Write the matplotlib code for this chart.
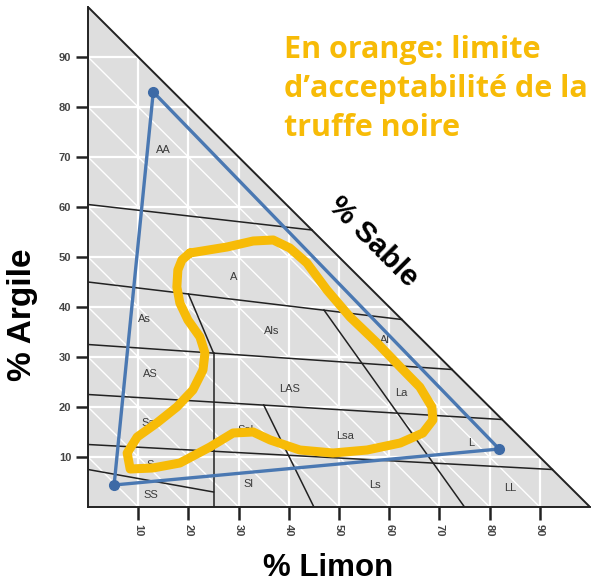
import matplotlib
matplotlib.use("Agg")
import matplotlib.pyplot as plt
import numpy as np

# grid levels of the texture triangle (% limon / % argile / % sable)
levels = [10, 20, 30, 40, 50, 60, 70, 80, 90]

# class boundaries: (limon0, argile0, limon1, argile1)
bound_x0 = [0, 0, 0, 0, 0, 0, 25, 20, 35, 47]
bound_y0 = [60.5, 45, 32.5, 22.5, 12.5, 7.5, 0, 42.6, 20.4, 39.4]
bound_x1 = [44.6, 62.5, 72.5, 82.5, 92.5, 25, 25, 25, 45, 75]
bound_y1 = [55.4, 37.5, 27.5, 17.5, 7.5, 3, 30.8, 30.8, 0, 0]

# class names and where they sit
classes = ["AA", "A", "As", "Als", "AS", "LAS", "Sa", "Sal", "S", "SS",
           "Sl", "Lsa", "Ls", "L", "LL", "La", "Al"]
class_x = [15, 29, 11.2, 36.5, 12.4, 40.2, 12, 31.3, 12.4, 12.6,
           32, 51.2, 57.2, 76.3, 84.2, 62.5, 59.2]
class_y = [71.4, 46, 37.6, 35.2, 26.6, 23.6, 16.8, 15.4, 8.4, 2.4,
           4.6, 14.2, 4.4, 12.8, 3.8, 22.8, 33.4]

# blue triangle vertices
tri_limon = [13, 5.2, 81.9]
tri_argile = [83, 4.4, 11.6]

# orange limit (truffe noire)
truffe_limon = [20.3, 27.7, 32.9, 36.9, 40.2, 43.6, 47.6, 52.2, 57.6, 62.2,
                66.1, 68.5, 68.7, 66.7, 62.2, 55.6, 48.8, 42.2, 36.3, 32.9,
                28.9, 24.3, 18.3, 12.9, 8.4, 7.8, 9.8, 13.7, 17.7, 20.9,
                22.9, 23.3, 22.3, 19.9, 18.3, 17.7, 17.9, 18.7, 20.3]
truffe_argile = [50.8, 52.0, 53.2, 53.4, 51.8, 48.8, 43.4, 38.0, 32.8, 28.0,
                 24.0, 20.0, 17.4, 14.8, 12.8, 11.4, 10.8, 11.4, 13.4, 15.0,
                 14.8, 12.0, 8.8, 7.8, 7.6, 10.8, 14.0, 16.8, 20.0, 23.4,
                 27.4, 30.8, 34.0, 37.4, 40.8, 44.0, 47.4, 49.4, 50.8]

orange = "#f7bb07"
blue = "#4a78b2"
plt.rcParams["font.family"] = ["Liberation Sans", "DejaVu Sans"]

fig = plt.figure(figsize=(6.06, 5.86), dpi=100)
ax = fig.add_axes([88/606, 79/586, 502/606, 500/586])
ax.set_xlim(0, 100)
ax.set_ylim(0, 100)
ax.patch.set_visible(False)

ax.fill([0, 100, 0], [0, 0, 100], color="#dedede", zorder=0)

for v in levels:
    ax.plot([v, v], [0, 100 - v], color="white", lw=1.6, zorder=1)
    ax.plot([0, 100 - v], [v, v], color="white", lw=1.6, zorder=1)
    ax.plot([0, v], [v, 0], color="white", lw=1.0, zorder=1)

for x0, y0, x1, y1 in zip(bound_x0, bound_y0, bound_x1, bound_y1):
    ax.plot([x0, x1], [y0, y1], color="#222222", lw=1.1, zorder=2)

ax.plot([0, 100], [100, 0], color="#222222", lw=1.4, zorder=2)

for name, x, y in zip(classes, class_x, class_y):
    ax.text(x, y, name, ha="center", va="center", fontsize=8, color="#3a3a3a", zorder=3)

ax.fill(tri_limon, tri_argile, fill=False, edgecolor=blue, lw=2.4, zorder=4)
ax.plot(tri_limon, tri_argile, "o", color="#3d6aa6", ms=7, zorder=5)

ax.plot(truffe_limon, truffe_argile, color=orange, lw=6.5, solid_joinstyle="round",
        solid_capstyle="round", zorder=6)

for s in ["top", "right"]:
    ax.spines[s].set_visible(False)
for s in ["left", "bottom"]:
    ax.spines[s].set_linewidth(1.4)
    ax.spines[s].set_color("#222222")

ax.set_xticks(levels)
ax.set_yticks(levels)
ax.set_xticklabels([str(v) for v in levels], rotation=270, fontweight="bold")
ax.set_yticklabels([str(v) for v in levels], fontweight="bold")
ax.tick_params(axis="both", length=9, width=1.8, color="#222222",
               labelsize=8, labelcolor="#444444", pad=3)

fig.text(328/606, 1 - 568/586, "% Limon", ha="center", va="center",
         fontsize=22.5, fontweight="bold")
fig.text(23/606, 1 - 315/586, "% Argile", ha="center", va="center", rotation=90,
         fontsize=24, fontweight="bold")
fig.text(373/606, 1 - 242/586, "% Sable", rotation=-45, ha="center", va="center",
         fontsize=21.5, fontweight="bold")

fig.text(284/606, 1 - 35/586, "En orange: limite\nd\u2019acceptabilit\u00e9 de la\ntruffe noire",
         ha="left", va="top", fontsize=22, fontweight="bold", color=orange,
         family="Open Sans", linespacing=1.4)

fig.savefig("out.png", dpi=100)
